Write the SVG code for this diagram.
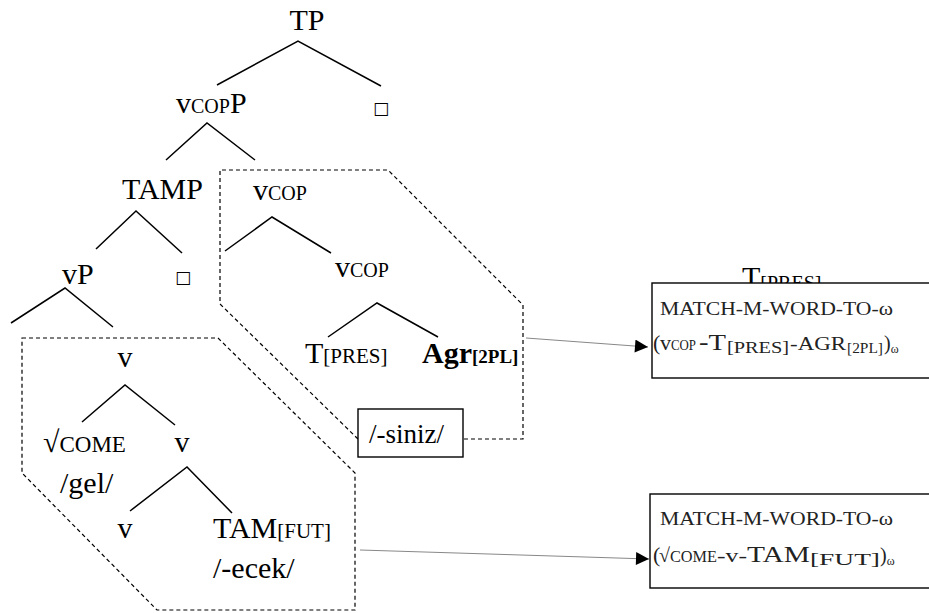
<svg xmlns="http://www.w3.org/2000/svg" width="929" height="613" viewBox="0 0 929 613">
<style>
text{font-family:"Liberation Serif","Times New Roman","DejaVu Serif",serif;fill:#000}
.big{font-size:30px}
.sc{font-size:20px}
.br{stroke:#000;stroke-width:1.5;fill:none}
.dash{stroke:#000;stroke-width:1.2;fill:none;stroke-dasharray:4 3}
.box{stroke:#000;stroke-width:1.4;fill:#fff}
.arr{stroke:#888;stroke-width:1;fill:none}
text.sq{font-family:"DejaVu Sans",sans-serif;font-size:17px}
text.bx{fill:#222}
</style>
<defs>
<marker id="ah" viewBox="0 0 10 10" refX="10" refY="5" markerWidth="15" markerHeight="13" markerUnits="userSpaceOnUse" orient="auto">
<path d="M0,0 L10,5 L0,10 Z" fill="#000"/>
</marker>
</defs>
<rect width="929" height="613" fill="#fff"/>

<g id="regions">
<path class="dash" d="M358,439 L220,304 L220,170 L388,170 L523,305 L523,439 L463,439"/>
<path class="dash" d="M22,338 L218,338 L355,473 L355,610 L157,610 L22,473 Z"/>
</g>

<g id="connectors">
<path class="br" d="M217,85 L298,41 L381,86"/>
<path class="br" d="M166,160 L207,123 L255,160"/>
<path class="br" d="M96,249 L136,211 L182,253"/>
<path class="br" d="M11,323 L65,288 L113,327"/>
<path class="br" d="M225,251 L272,217 L331,253"/>
<path class="br" d="M328,337 L377,303 L438,337"/>
<path class="br" d="M82,422 L125,385 L175,425"/>
<path class="br" d="M130,511 L187,467 L232,513"/>
<path class="arr" d="M526,338 L648,347" marker-end="url(#ah)"/>
<path class="arr" d="M360,550 L649,559" marker-end="url(#ah)"/>
</g>

<g id="n-TP"><text class="big" x="307" y="30" text-anchor="middle">TP</text></g>
<g id="n-vcopP"><text class="big" x="176" y="113">v<tspan class="sc">COP</tspan>P</text></g>
<g id="n-sq1"><text class="sq" x="373" y="114">□</text></g>
<g id="n-TAMP"><text class="big" x="122" y="199">TAMP</text></g>
<g id="n-vcop1"><text class="big" x="253" y="200">v<tspan class="sc">COP</tspan></text></g>
<g id="n-vP"><text class="big" x="62" y="284">vP</text></g>
<g id="n-sq2"><text class="sq" x="175" y="283">□</text></g>
<g id="n-vcop2"><text class="big" x="335" y="277">v<tspan class="sc">COP</tspan></text></g>
<g id="n-Tpres"><text class="big" x="305" y="363">T<tspan font-size="21px">[PRES]</tspan></text></g>
<g id="n-Agr"><text class="big" x="422" y="363" font-weight="bold">Agr<tspan font-size="19px">[2PL]</tspan></text></g>
<g id="n-v1"><text class="big" x="125" y="367" text-anchor="middle">v</text></g>
<g id="n-come"><text class="big" x="43" y="452">√<tspan font-size="23px">COME</tspan></text><text class="big" x="60" y="493">/gel/</text></g>
<g id="n-v2"><text class="big" x="182" y="452" text-anchor="middle">v</text></g>
<g id="n-v3"><text class="big" x="125" y="538" text-anchor="middle">v</text></g>
<g id="n-TAM"><text class="big" x="213" y="538">TAM<tspan font-size="21px">[FUT]</tspan></text><text class="big" x="213" y="578">/-ecek/</text></g>

<g id="n-siniz">
<rect class="box" x="358" y="409" width="105" height="48" stroke-width="1.6"/>
<text x="369" y="443" font-size="27px">/-siniz/</text>
</g>

<g id="n-box1">
<text class="big" x="742" y="287">T<tspan font-size="20px" dy="3">[PRES]</tspan></text>
<rect class="box" x="652" y="283" width="290" height="95"/>
<text class="bx" x="660" y="315" font-size="18px" textLength="233" lengthAdjust="spacingAndGlyphs">MATCH-M-WORD-TO-ω</text>
<text class="bx" y="350"><tspan x="653" font-size="22px">(</tspan><tspan x="660" font-size="22px">v</tspan><tspan font-size="15px" textLength="25" lengthAdjust="spacingAndGlyphs">COP</tspan><tspan x="699" font-size="24px" textLength="27" lengthAdjust="spacingAndGlyphs">-T</tspan><tspan x="727" font-size="16px" dy="3" textLength="62" lengthAdjust="spacingAndGlyphs">[PRES]</tspan><tspan x="790" font-size="19px" dy="-3" textLength="56" lengthAdjust="spacingAndGlyphs">-AGR</tspan><tspan x="847" font-size="14px" dy="3" textLength="36" lengthAdjust="spacingAndGlyphs">[2PL]</tspan><tspan x="884" font-size="20px" dy="-3">)</tspan><tspan font-size="12px" dy="3">ω</tspan></text>
</g>

<g id="n-box2">
<rect class="box" x="650" y="494" width="292" height="94"/>
<text class="bx" x="660" y="525" font-size="18px" textLength="233" lengthAdjust="spacingAndGlyphs">MATCH-M-WORD-TO-ω</text>
<text class="bx" y="562"><tspan x="653" font-size="22px">(</tspan><tspan x="659" font-size="20px">√</tspan><tspan x="670" font-size="17px" textLength="47" lengthAdjust="spacingAndGlyphs">COME</tspan><tspan x="717" font-size="19px" textLength="30" lengthAdjust="spacingAndGlyphs">-v-</tspan><tspan x="747" font-size="24px" textLength="63" lengthAdjust="spacingAndGlyphs">TAM</tspan><tspan x="810" font-size="16px" dy="3" textLength="70" lengthAdjust="spacingAndGlyphs">[FUT]</tspan><tspan x="880" font-size="20px" dy="-3">)</tspan><tspan font-size="12px" dy="3">ω</tspan></text>
</g>
</svg>
